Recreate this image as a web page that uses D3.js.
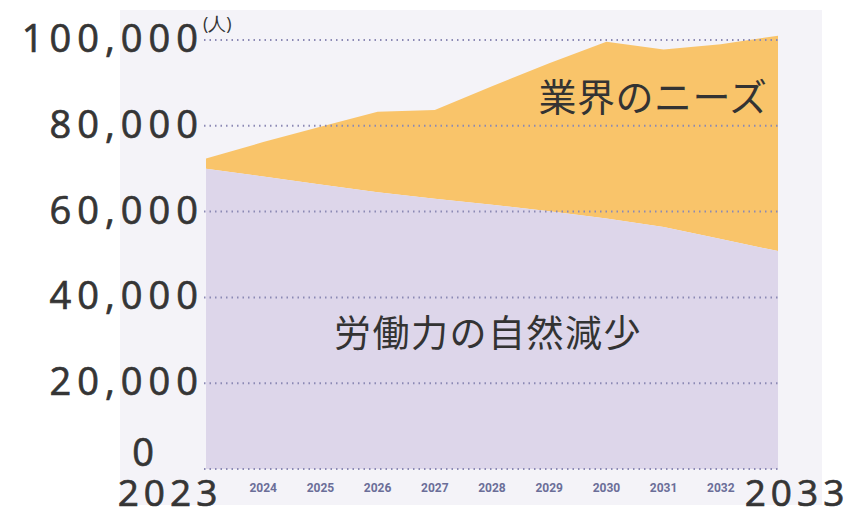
<!DOCTYPE html>
<html>
<head>
<meta charset="utf-8">
<script src="https://cdn.jsdelivr.net/npm/d3@7"></script>
<style>
  body { margin: 0; background: #ffffff; }
  svg { display: block; }
</style>
</head>
<body>
<svg></svg>
<script>
// data
let years = [2023, 2024, 2025, 2026, 2027, 2028, 2029, 2030, 2031, 2032, 2033]
let laborForce = [70000, 68200, 66300, 64500, 63000, 61600, 60100, 58400, 56400, 53600, 50800]
let industryNeeds = [72400, 76200, 79800, 83300, 83700, 89200, 94600, 99600, 97800, 99000, 101000]
let yTicks = [0, 20000, 40000, 60000, 80000, 100000]
let yTickLabels = ['0', '20,000', '40,000', '60,000', '80,000', '100,000']
let smallYearLabels = ['2024', '2025', '2026', '2027', '2028', '2029', '2030', '2031', '2032']
let bigYearLabels = ['2023', '2033']

let width = 851
let height = 513

let plotLeft = 206
let plotRight = 778
let plotTop = 40
let plotBottom = 469

let svg = d3.select('svg')
  .attr('width', width)
  .attr('height', height)

let xScale = d3.scaleLinear()
  .domain([2023, 2033])
  .range([plotLeft, plotRight])

let yScale = d3.scaleLinear()
  .domain([0, 100000])
  .range([plotBottom, plotTop])

let rows = years.map((y, i) => ({ year: y, labor: laborForce[i], need: industryNeeds[i] }))

// light backdrop
svg.append('rect')
  .attr('x', 120).attr('y', 10)
  .attr('width', 702).attr('height', 495)
  .attr('fill', '#f4f3f8')

// areas
let needArea = d3.area()
  .x(d => xScale(d.year))
  .y0(d => yScale(d.labor))
  .y1(d => yScale(d.need))

let laborArea = d3.area()
  .x(d => xScale(d.year))
  .y0(yScale(0))
  .y1(d => yScale(d.labor))

svg.append('path')
  .datum(rows)
  .attr('d', needArea)
  .attr('fill', '#f9c46a')

svg.append('path')
  .datum(rows)
  .attr('d', laborArea)
  .attr('fill', '#ddd6ea')

// dotted gridlines
svg.append('g')
  .selectAll('line')
  .data(yTicks)
  .enter()
  .append('line')
  .attr('x1', plotLeft - 2)
  .attr('x2', plotRight)
  .attr('y1', d => yScale(d))
  .attr('y2', d => yScale(d))
  .attr('stroke', '#8b89b4')
  .attr('stroke-width', 2)
  .attr('stroke-dasharray', '1.5,4')

// y labels (thin stroke to match the heavier look)
let labelFont = "'Open Sans', 'Noto Sans', sans-serif"

let yLab = svg.append('g')
yTicks.forEach((t, i) => {
  let isZero = t === 0
  yLab.append('text')
    .attr('x', isZero ? 143 : 204)
    .attr('y', isZero ? yScale(t) - 3 : yScale(t) + 12)
    .attr('text-anchor', isZero ? 'middle' : 'end')
    .attr('font-family', labelFont)
    .attr('font-size', 38)
    .attr('letter-spacing', isZero ? 0 : 6)
    .attr('fill', '#353535')
    .attr('stroke', '#353535')
    .attr('stroke-width', 0.7)
    .text(yTickLabels[i])
})

svg.append('text')
  .attr('x', 203)
  .attr('y', 30)
  .attr('font-family', labelFont)
  .attr('font-size', 18)
  .attr('fill', '#353535')
  .text('(人)')

// small year labels
svg.append('g')
  .selectAll('text')
  .data(smallYearLabels)
  .enter()
  .append('text')
  .attr('x', d => xScale(+d))
  .attr('y', 492)
  .attr('text-anchor', 'middle')
  .attr('font-family', "'Liberation Sans Narrow', 'Roboto', sans-serif")
  .attr('font-weight', 'bold')
  .attr('font-size', 12)
  .attr('fill', '#6b6e98')
  .text(d => d)

// big end-year labels
svg.append('g')
  .selectAll('text')
  .data(bigYearLabels)
  .enter()
  .append('text')
  .attr('x', d => xScale(+d) + (+d === 2023 ? -36 : 19))
  .attr('y', 506)
  .attr('text-anchor', 'middle')
  .attr('font-family', labelFont)
  .attr('font-size', 37)
  .attr('letter-spacing', 5)
  .attr('fill', '#353535')
  .attr('stroke', '#353535')
  .attr('stroke-width', 0.7)
  .text(d => d)

// series names
let jpFont = "'Noto Sans CJK JP', sans-serif"

svg.append('text')
  .attr('x', 653)
  .attr('y', 111)
  .attr('text-anchor', 'middle')
  .attr('font-family', jpFont)
  .attr('font-size', 38)
  .attr('letter-spacing', 0.5)
  .attr('fill', '#333333')
  .text('業界のニーズ')

svg.append('text')
  .attr('x', 488)
  .attr('y', 347)
  .attr('text-anchor', 'middle')
  .attr('font-family', jpFont)
  .attr('font-size', 37)
  .attr('letter-spacing', 1.5)
  .attr('fill', '#333333')
  .text('労働力の自然減少')
</script>
</body>
</html>
